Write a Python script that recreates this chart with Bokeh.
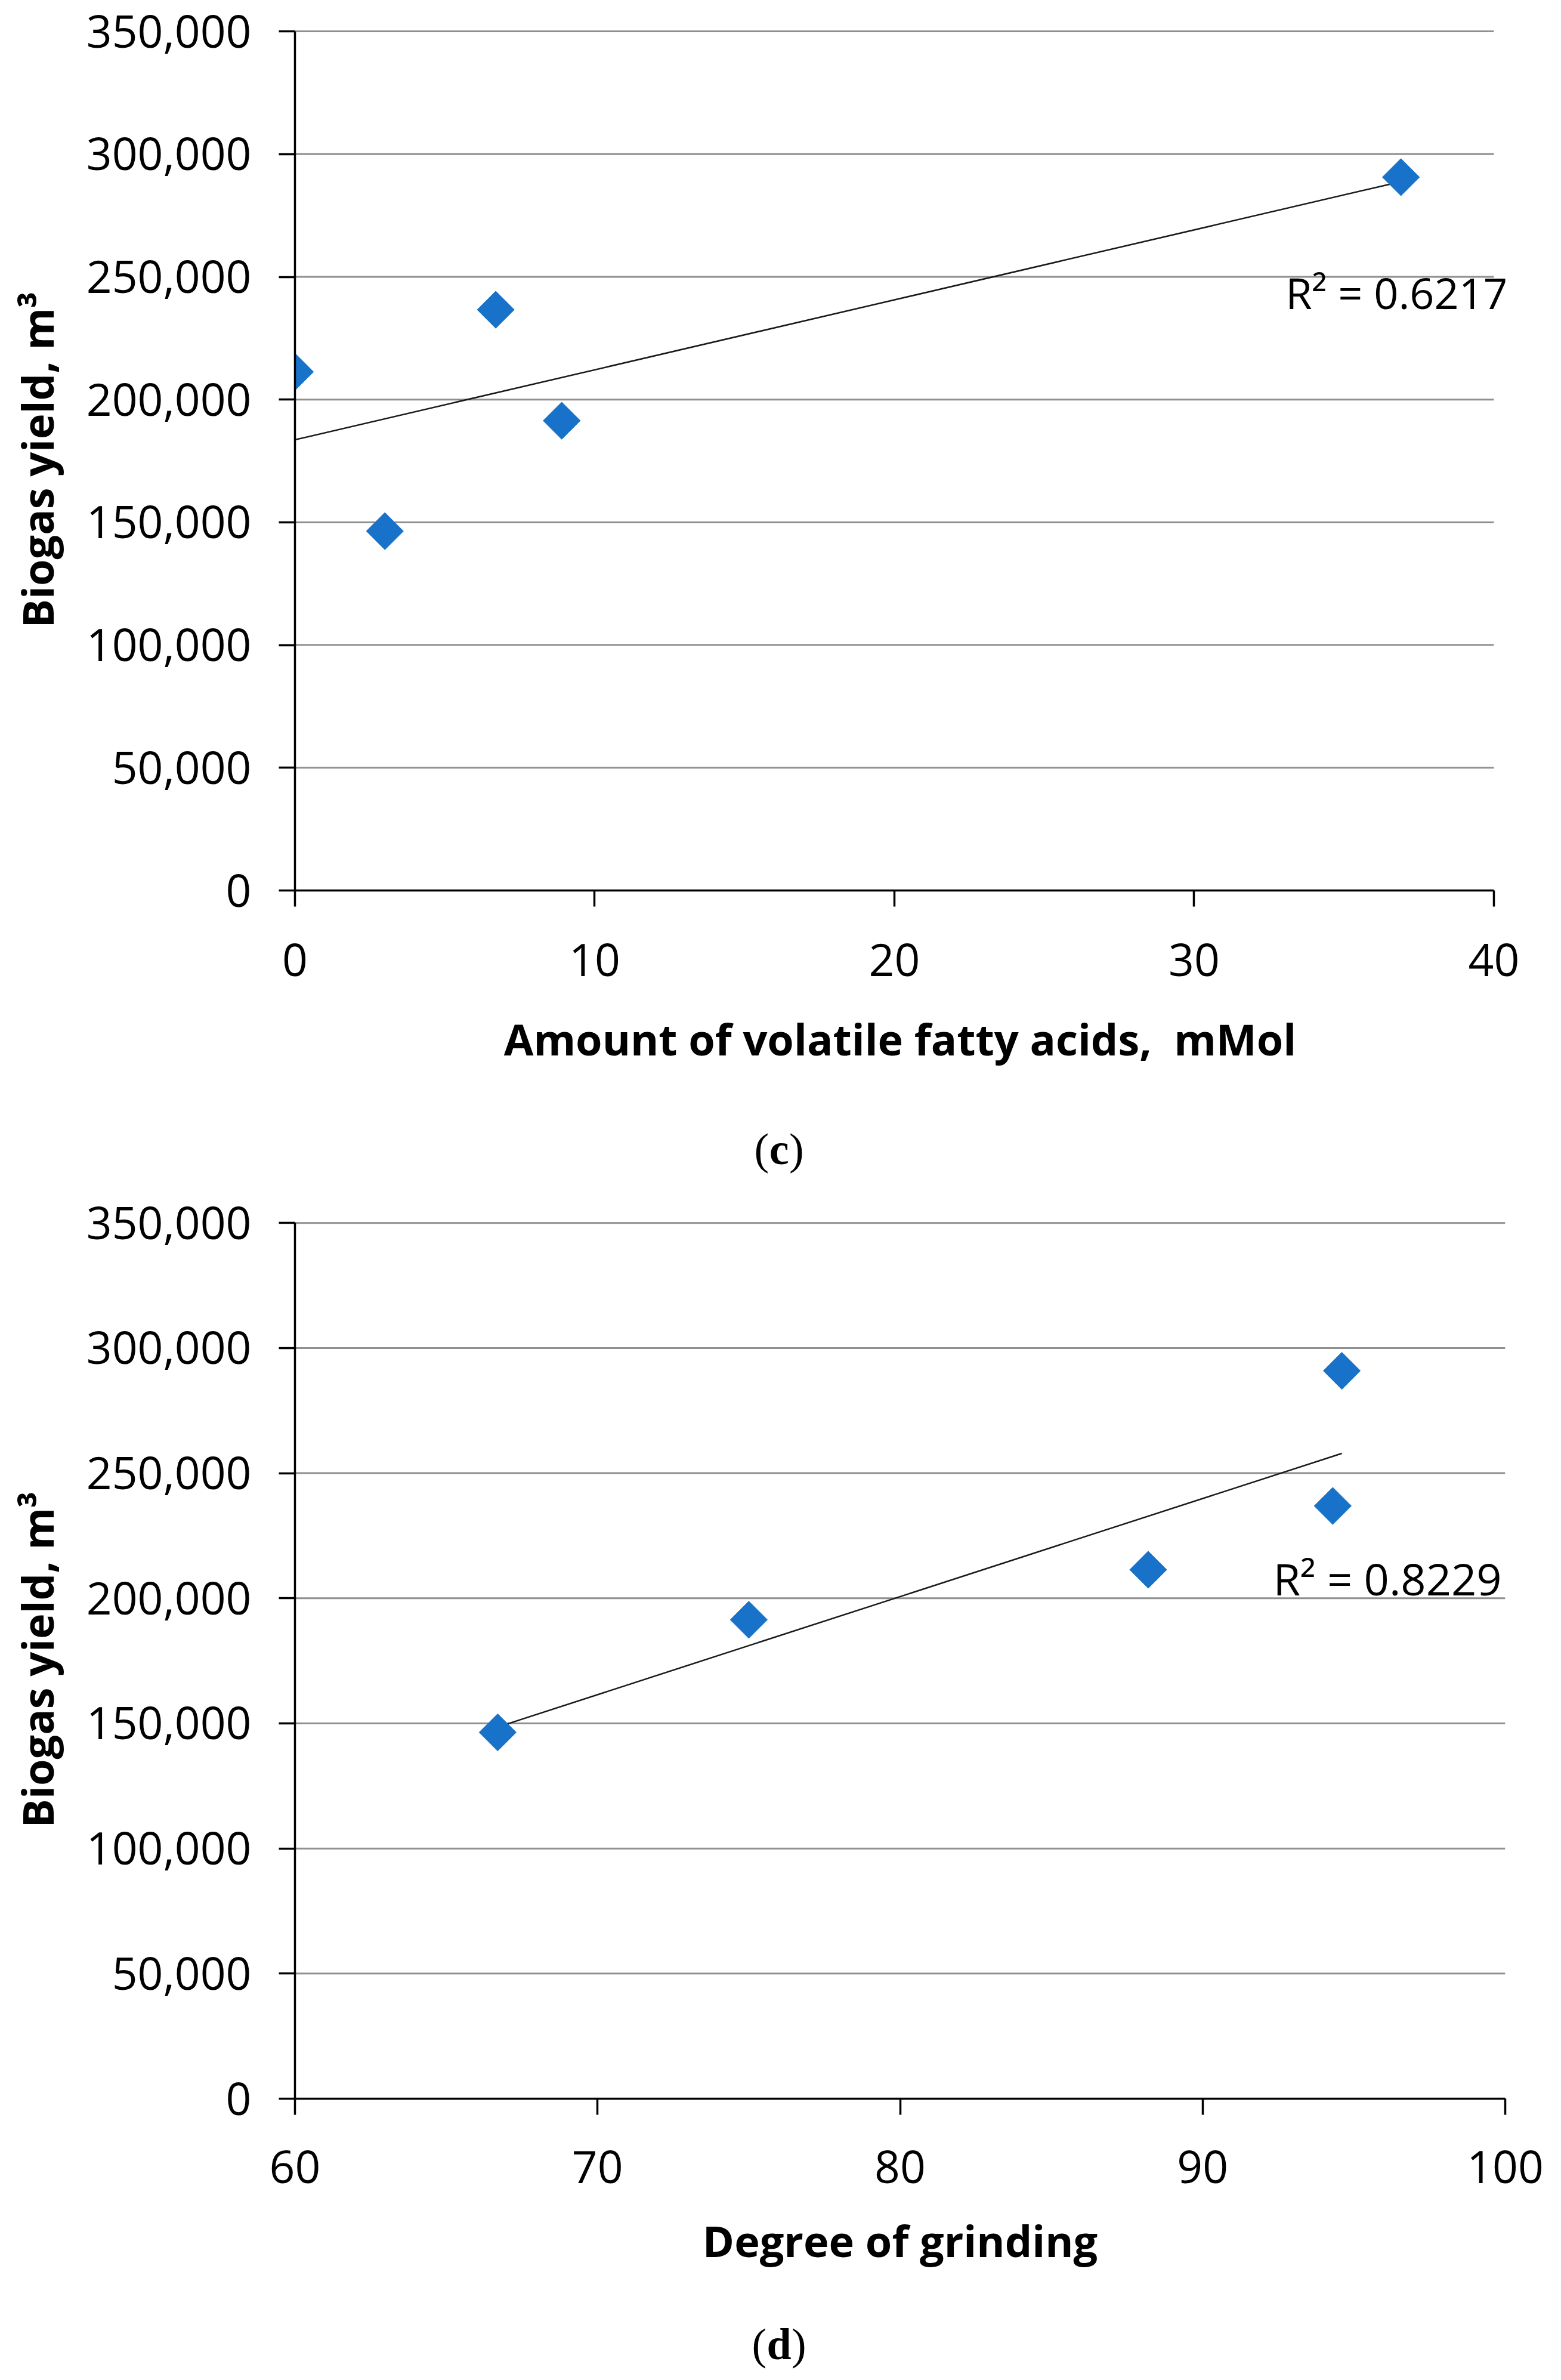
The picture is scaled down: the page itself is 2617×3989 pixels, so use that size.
import numpy as np
from bokeh.plotting import figure
from bokeh.models import Range1d, FixedTicker, NumeralTickFormatter, Label
from bokeh.layouts import column
from bokeh.embed import file_html
from bokeh.resources import INLINE

# ---------------- data ----------------
vfa_mmol = [0.0, 3.0, 6.7, 8.9, 36.9]
vfa_biogas = [211300, 146400, 236600, 191400, 290600]
vfa_r2_label = "R² = 0.6217"
vfa_xlabel = "Amount of volatile fatty acids,\u00a0 mMol"
vfa_xticks = [0, 10, 20, 30, 40]

grind_degree = [66.7, 75.0, 88.2, 94.3, 94.6]
grind_biogas = [146400, 191400, 211400, 236900, 290900]
grind_r2_label = "R² = 0.8229"
grind_xlabel = "Degree of grinding"
grind_xticks = [60, 70, 80, 90, 100]

y_ticks = [0, 50000, 100000, 150000, 200000, 250000, 300000, 350000]
y_label = "Biogas yield, m³"
panel_letters = ["c", "d"]

BLUE = "#1872C9"
GRID = "#8f8f8f"
W = 2600
BL, BR = 494, 77   # common left/right borders (frames are aligned in a column)


def make_fig(height, bt, bb, xr_end, xticks, xlabel, xs, ys, r2_text, r2_pos,
             r2_size, x_std, title_std):
    p = figure(width=W, height=height, x_range=Range1d(xticks[0], xr_end),
               y_range=Range1d(0, y_ticks[-1] + 1000), output_backend="svg",
               toolbar_location=None, min_border_left=BL, min_border_right=BR,
               min_border_top=bt, min_border_bottom=bb)
    p.outline_line_color = None
    p.background_fill_color = "white"
    p.border_fill_color = "white"
    p.xgrid.grid_line_color = None
    p.ygrid.grid_line_color = None

    # horizontal gridlines spanning the axis extent only
    p.segment(x0=[xticks[0]] * len(y_ticks), x1=[xticks[-1]] * len(y_ticks),
              y0=y_ticks, y1=y_ticks, line_color=GRID, line_width=3)

    p.xaxis.ticker = FixedTicker(ticks=xticks)
    p.yaxis.ticker = FixedTicker(ticks=y_ticks)
    p.xaxis.bounds = (xticks[0], xticks[-1])
    p.yaxis.bounds = (y_ticks[0], y_ticks[-1])
    p.yaxis.formatter = NumeralTickFormatter(format="0,0")
    for ax in (p.xaxis, p.yaxis):
        ax.axis_line_color = "black"
        ax.axis_line_width = 3.5
        ax.major_tick_line_color = "black"
        ax.major_tick_line_width = 3.5
        ax.major_tick_out = 27
        ax.major_tick_in = 0
        ax.minor_tick_line_color = None
        ax.major_label_text_font = "Open Sans"
        ax.major_label_text_font_size = "75px"
        ax.major_label_text_color = "black"
        ax.axis_label_text_font = "Open Sans"
        ax.axis_label_text_font_size = "72px"
        ax.axis_label_text_font_style = "bold"
        ax.axis_label_text_color = "black"
    p.xaxis.axis_label = xlabel
    p.yaxis.axis_label = y_label
    p.yaxis.major_label_standoff = 46
    p.yaxis.axis_label_standoff = 31
    p.xaxis.major_label_standoff = x_std
    p.xaxis.axis_label_standoff = title_std

    # linear trendline from least squares on the data
    slope, icpt = np.polyfit(xs, ys, 1)
    tx = np.array([min(xs), max(xs)])
    p.line(tx, slope * tx + icpt, line_color="#1a1a1a", line_width=2.5)

    p.scatter(xs, ys, marker="square", angle=np.pi / 4, size=44,
              fill_color=BLUE, line_color=BLUE)

    p.add_layout(Label(x=r2_pos[0], y=r2_pos[1], text=r2_text,
                       text_font="Open Sans", text_font_size=r2_size,
                       text_color="black", text_align="left",
                       text_baseline="alphabetic"))
    return p


def make_caption(height, letter, xfrac, baseline):
    c = figure(width=W, height=height, x_range=Range1d(0, 1),
               y_range=Range1d(0, height), output_backend="svg",
               toolbar_location=None, x_axis_type=None, y_axis_type=None,
               min_border_left=BL, min_border_right=BR, min_border_top=0,
               min_border_bottom=0)
    c.outline_line_color = None
    c.grid.visible = False
    c.background_fill_color = "white"
    c.border_fill_color = "white"
    half = 17 if letter == "c" else 21
    common = dict(x=xfrac, y=baseline, text_font="Liberation Serif",
                  text_font_size="74px", text_color="black",
                  text_baseline="alphabetic")
    c.add_layout(Label(text="(", text_align="right", x_offset=-half, **common))
    c.add_layout(Label(text=letter, text_align="center",
                       text_font_style="bold", **common))
    c.add_layout(Label(text=")", text_align="left", x_offset=half, **common))
    return c


p1 = make_fig(1822, 48, 330, 40.38, vfa_xticks, vfa_xlabel,
              vfa_mmol, vfa_biogas, vfa_r2_label, (33.05, 243800), "72px", 62, 53)
c1 = make_caption(170, panel_letters[0], 0.4, 67)
p2 = make_fig(1845, 53, 320, 100, grind_xticks, grind_xlabel,
              grind_degree, grind_biogas, grind_r2_label, (92.33, 207900), "74px", 60, 44)
c2 = make_caption(133, panel_letters[1], 0.4, 42)

layout = column(p1, c1, p2, c2)
open("out.html", "w").write(file_html(layout, INLINE))
